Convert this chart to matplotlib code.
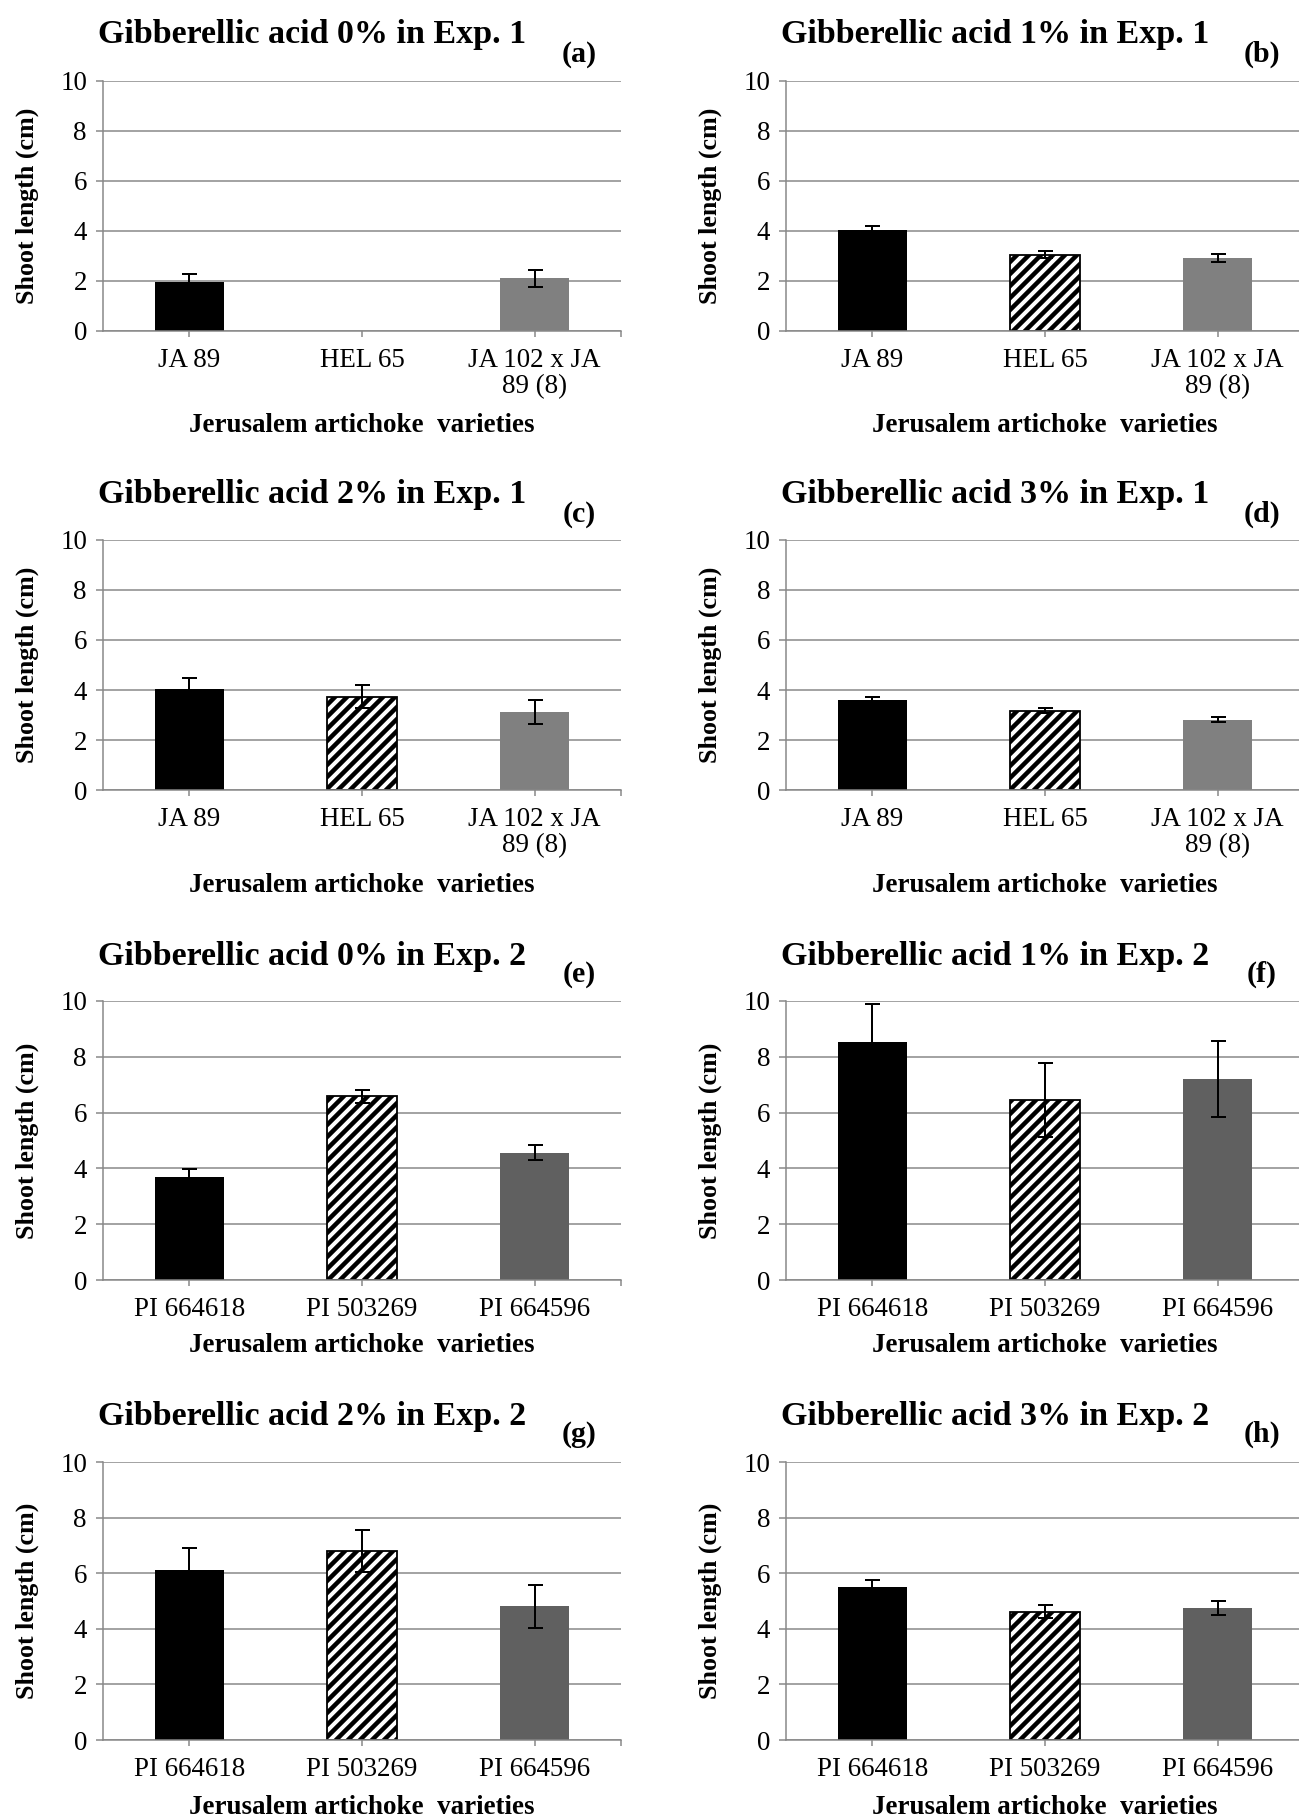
import matplotlib
matplotlib.use("Agg")
import matplotlib.pyplot as plt
import numpy as np

# ===== DATA =====
varieties_exp1 = ["JA 89", "HEL 65", "JA 102 x JA\n89 (8)"]
varieties_exp2 = ["PI 664618", "PI 503269", "PI 664596"]
ga_levels = ["0%", "1%", "2%", "3%"]
panel_tags = ["(a)", "(b)", "(c)", "(d)", "(e)", "(f)", "(g)", "(h)"]

# shoot length (cm), one row per gibberellic acid level
exp1_means = [[1.96, 0.00, 2.10],
              [4.02, 3.05, 2.92],
              [4.03, 3.73, 3.11],
              [3.60, 3.16, 2.81]]
exp1_err = [[0.31, 0.00, 0.33],
            [0.16, 0.13, 0.16],
            [0.46, 0.45, 0.48],
            [0.12, 0.10, 0.10]]
exp2_means = [[3.69, 6.58, 4.56],
              [8.52, 6.46, 7.19],
              [6.13, 6.80, 4.81],
              [5.49, 4.62, 4.74]]
exp2_err = [[0.28, 0.24, 0.27],
            [1.36, 1.32, 1.36],
            [0.78, 0.74, 0.77],
            [0.25, 0.22, 0.25]]

# ===== STYLE =====
W, H, DPI = 1299, 1818, 72   # at 72 dpi one point is one pixel
GRID = "#878787"
plt.rcParams["font.family"] = ["Liberation Serif", "DejaVu Serif"]
plt.rcParams["hatch.linewidth"] = 4.5

fig = plt.figure(figsize=(W / DPI, H / DPI), dpi=DPI)

# pixel layout: axes top, axes bottom, title y, tag y, xlabel y
rows = [(81, 331, 30, 52, 425),
        (540, 790, 490, 512, 885),
        (1001, 1280, 952, 972, 1345),
        (1462, 1740, 1412, 1432, 1807)]
cols = [103, 786]
AX_W = 518


def draw_panel(row, col, names, means, errs, third_color, title, tag):
    top, bottom, ty, tagy, xly = rows[row]
    left = cols[col]
    ax = fig.add_axes([left / W, 1 - bottom / H, AX_W / W, (bottom - top) / H])

    x = np.arange(len(names))
    colors = ["black", "white", third_color]
    edges = ["black", "black", third_color]
    widths = [0, 1.8 if means[1] > 0 else 0, 0]
    hatches = [None, "//", None]
    for i in range(len(names)):
        ax.bar(x[i], means[i], width=0.4, color=colors[i], edgecolor=edges[i],
               linewidth=widths[i], hatch=hatches[i], zorder=2)

    shown = [i for i in range(len(names)) if means[i] > 0]
    ax.errorbar(x[shown], np.array(means)[shown], yerr=np.array(errs)[shown],
                fmt="none", ecolor="black", elinewidth=2, capsize=7.5,
                capthick=2, zorder=3)

    ax.set_xlim(-0.5, 2.5)
    ax.set_ylim(0, 10)
    ax.set_yticks(range(0, 11, 2))
    ax.set_xticks(x)
    ax.set_xticklabels(names, fontsize=27, linespacing=1.05)
    ax.set_xticks([2.5], minor=True)
    ax.tick_params(axis="y", labelsize=27, length=7, width=1.5, color=GRID, pad=9)
    ax.tick_params(axis="x", which="both", length=6, width=1.5, color=GRID, pad=11)

    ax.grid(axis="y", color=GRID, linewidth=1.5)
    ax.set_axisbelow(True)
    for s in ["top", "right"]:
        ax.spines[s].set_visible(False)
    for s in ["left", "bottom"]:
        ax.spines[s].set_color(GRID)
        ax.spines[s].set_linewidth(1.5)

    cx = left + AX_W / 2
    fig.text((cx - 50) / W, 1 - (ty + 5) / H, title, fontsize=34, fontweight="bold",
             ha="center", va="center")
    fig.text((cx + 217) / W, 1 - (tagy + 2) / H, tag, fontsize=30, fontweight="bold",
             ha="center", va="center")
    fig.text(cx / W, 1 - xly / H, "Jerusalem artichoke  varieties", fontsize=27,
             fontweight="bold", ha="center", va="center")
    fig.text((left - 76) / W, 1 - (top + bottom) / 2 / H, "Shoot length (cm)",
             fontsize=26, fontweight="bold", rotation=90, ha="center", va="center")


for k in range(4):
    draw_panel(k // 2, k % 2, varieties_exp1, exp1_means[k], exp1_err[k], "#808080",
               f"Gibberellic acid {ga_levels[k]} in Exp. 1", panel_tags[k])
for k in range(4):
    draw_panel(2 + k // 2, k % 2, varieties_exp2, exp2_means[k], exp2_err[k], "#606060",
               f"Gibberellic acid {ga_levels[k]} in Exp. 2", panel_tags[4 + k])

fig.savefig("out.png", dpi=DPI)
plt.close(fig)
